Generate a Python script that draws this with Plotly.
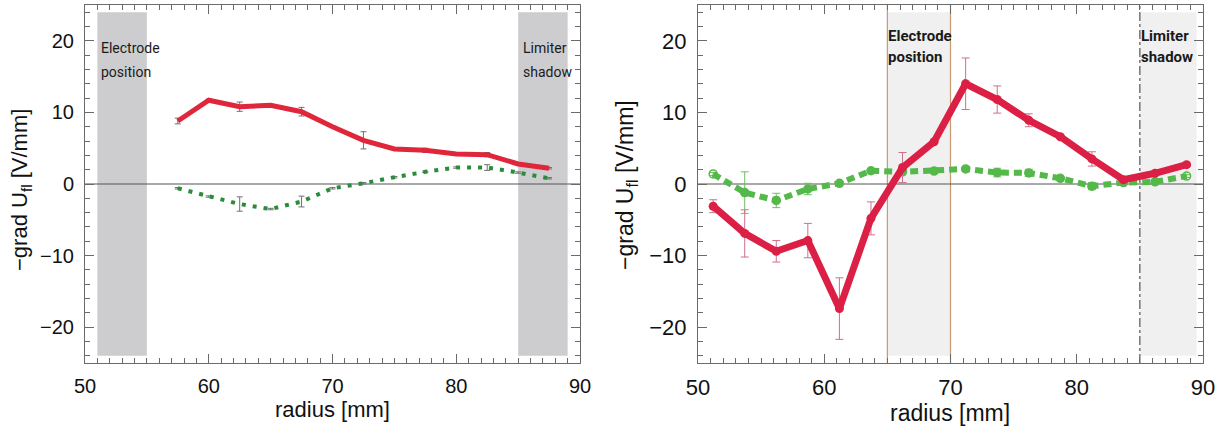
import plotly.graph_objects as go

# ---- data: left panel (radius in mm, -grad U_fl in V/mm) ----
r_left = [57.5, 60.0, 62.5, 65.0, 67.5, 70.0, 72.5, 75.0, 77.5, 80.0, 82.5, 85.0, 87.5]
red_left = [8.8, 11.7, 10.8, 11.0, 10.1, 8.0, 6.1, 4.9, 4.7, 4.2, 4.1, 2.8, 2.2]
red_left_err = [0.4, 0.15, 0.65, 0.15, 0.6, 0.1, 1.2, 0.1, 0.3, 0.1, 0.3, 0.1, 0.1]
green_left = [-0.6, -1.75, -2.8, -3.5, -2.45, -0.6, 0.1, 0.95, 1.7, 2.3, 2.3, 1.6, 0.8]
green_left_err = [0.1, 0.1, 1.0, 0.1, 0.75, 0.1, 0.1, 0.1, 0.1, 0.1, 0.4, 0.1, 0.1]

# ---- data: right panel ----
r_right = [51.2, 53.7, 56.2, 58.7, 61.2, 63.7, 66.2, 68.7, 71.2, 73.7, 76.2, 78.7, 81.2, 83.7, 86.2, 88.7]
red_right = [-3.1, -6.9, -9.4, -7.9, -17.4, -4.8, 2.3, 5.9, 14.0, 11.8, 8.9, 6.6, 3.5, 0.6, 1.5, 2.7]
red_right_err = [0.9, 3.3, 1.5, 2.4, 4.3, 2.3, 2.1, 0.2, 3.6, 1.9, 0.9, 0.2, 1.0, 0.2, 0.2, 0.2]
green_right = [1.4, -1.2, -2.3, -0.7, 0.1, 1.85, 1.7, 1.8, 2.1, 1.6, 1.55, 0.8, -0.3, 0.2, 0.3, 1.1]
green_right_err = [0.2, 2.9, 1.0, 0.8, 0.2, 0.2, 0.2, 0.2, 0.2, 0.6, 0.5, 0.2, 0.5, 0.2, 0.2, 0.2]

x_ticks = [50, 60, 70, 80, 90]
y_ticks = [-20, -10, 0, 10, 20]
x_range = [50, 90]
y_range = [-25, 25]

FONT = "Liberation Sans"
LABEL_FONT = "Roboto"
FRAME = "#6a6a6a"

fig = go.Figure()

# left panel curves
fig.add_trace(go.Scatter(
    x=r_left, y=red_left, mode="lines", xaxis="x", yaxis="y",
    line=dict(color="#e0263a", width=5),
    error_y=dict(type="data", array=red_left_err, color="#707070", thickness=1, width=3),
    showlegend=False))
fig.add_trace(go.Scatter(
    x=r_left, y=green_left, mode="lines", xaxis="x", yaxis="y",
    line=dict(color="#2a8c3a", width=4, dash="4px,7px"),
    error_y=dict(type="data", array=green_left_err, color="#707070", thickness=1, width=3),
    showlegend=False))

# right panel curves
fig.add_trace(go.Scatter(
    x=r_right, y=green_right, mode="lines+markers", xaxis="x2", yaxis="y2",
    line=dict(color="#55b84a", width=6, dash="8px,5px"),
    marker=dict(color="#55b84a", size=8,
                symbol=["circle-open"] + ["circle"] * (len(r_right) - 2) + ["circle-open"],
                line=dict(color="#55b84a", width=1.5)),
    error_y=dict(type="data", array=green_right_err, color="#6cc060", thickness=1, width=4),
    showlegend=False))
fig.add_trace(go.Scatter(
    x=r_right, y=red_right, mode="lines+markers", xaxis="x2", yaxis="y2",
    line=dict(color="#dc1f45", width=7),
    marker=dict(color="#dc1f45", size=9),
    error_y=dict(type="data", array=red_right_err, color="#cf6f8a", thickness=1, width=4),
    showlegend=False))

shapes = []
# left panel shaded regions
for x0, x1 in [(51, 55), (85, 89)]:
    shapes.append(dict(type="rect", xref="x", yref="y", x0=x0, x1=x1, y0=-24, y1=24,
                       fillcolor="#cdcdd0", line=dict(width=0), layer="below"))
# right panel shaded regions
for x0, x1 in [(65, 70), (85, 89.5)]:
    shapes.append(dict(type="rect", xref="x2", yref="y2", x0=x0, x1=x1, y0=-24, y1=24,
                       fillcolor="#f0f0f0", line=dict(width=0), layer="below"))
# electrode boundaries and limiter line
for xv in (65, 70):
    shapes.append(dict(type="line", xref="x2", yref="y2", x0=xv, x1=xv, y0=-25, y1=25,
                       line=dict(color="#c89a70", width=1.2), layer="below"))
shapes.append(dict(type="line", xref="x2", yref="y2", x0=85, x1=85, y0=-25, y1=25,
                   line=dict(color="#333333", width=1, dash="dashdot"), layer="below"))
# zero lines
for xa, ya in [("x", "y"), ("x2", "y2")]:
    shapes.append(dict(type="line", xref=xa, yref=ya, x0=50, x1=90, y0=0, y1=0,
                       line=dict(color="#555555", width=1), layer="below"))

annotations = []
# region labels
def region_label(xa, ya, x, y, text, size, bold):
    return dict(xref=xa, yref=ya, x=x, y=y, text=f"<b>{text}</b>" if bold else text,
                showarrow=False, xanchor="left", yanchor="middle",
                font=dict(family=LABEL_FONT, size=size, color="#1a1a1a"))

annotations += [
    region_label("x", "y", 51.1, 19.0, "Electrode", 14, False),
    region_label("x", "y", 51.1, 15.6, "position", 14, False),
    region_label("x", "y", 85.2, 19.0, "Limiter", 14, False),
    region_label("x", "y", 85.2, 15.6, "shadow", 14, False),
    region_label("x2", "y2", 64.9, 20.7, "Electrode", 15, True),
    region_label("x2", "y2", 64.9, 17.7, "position", 15, True),
    region_label("x2", "y2", 84.9, 20.7, "Limiter", 15, True),
    region_label("x2", "y2", 84.9, 17.7, "shadow", 15, True),
]
# axis titles
ytitle = "\u2212grad U<sub>fl</sub> [V/mm]"
def paper_text(x, y, text, size, angle=0):
    return dict(xref="paper", yref="paper", x=x / 1223, y=1 - y / 430, text=text,
                textangle=angle, showarrow=False, xanchor="center", yanchor="middle",
                font=dict(family=FONT, size=size, color="#111111"))

annotations += [
    paper_text(21, 190, ytitle, 22, -90),
    paper_text(626, 185, ytitle, 23, -90),
    paper_text(332, 409, "radius [mm]", 22),
    paper_text(950, 413, "radius [mm]", 23),
]

def xaxis(domain, anchor, size):
    return dict(domain=domain, anchor=anchor, range=x_range, tickvals=x_ticks,
                automargin=False, ticklabelstandoff=5,
                ticks="inside", ticklen=9, tickcolor=FRAME, showgrid=False, zeroline=False,
                showline=True, linecolor=FRAME, linewidth=1, mirror="ticks",
                minor=dict(dtick=1, ticks="inside", ticklen=5, tickcolor=FRAME, showgrid=False),
                tickfont=dict(family=FONT, size=size, color="#111111"))

def yaxis(domain, anchor, size):
    return dict(domain=domain, anchor=anchor, range=y_range, tickvals=y_ticks,
                ticktext=[str(v).replace("-", "\u2212") for v in y_ticks],
                automargin=False, ticklabelstandoff=6,
                ticks="inside", ticklen=9, tickcolor=FRAME, showgrid=False, zeroline=False,
                showline=True, linecolor=FRAME, linewidth=1, mirror="ticks",
                minor=dict(dtick=2, ticks="inside", ticklen=5, tickcolor=FRAME, showgrid=False),
                tickfont=dict(family=FONT, size=size, color="#111111"))

ydom = [1 - 363 / 430, 1 - 5 / 430]
fig.update_layout(
    width=1223, height=430,
    margin=dict(l=0, r=0, t=0, b=0),
    paper_bgcolor="white", plot_bgcolor="white",
    xaxis=xaxis([85 / 1223, 580 / 1223], "y", 20),
    yaxis=yaxis(ydom, "x", 20),
    xaxis2=xaxis([698 / 1223, 1203 / 1223], "y2", 22),
    yaxis2=yaxis(ydom, "x2", 22),
    shapes=shapes,
    annotations=annotations,
)

fig.write_html("out.html")
